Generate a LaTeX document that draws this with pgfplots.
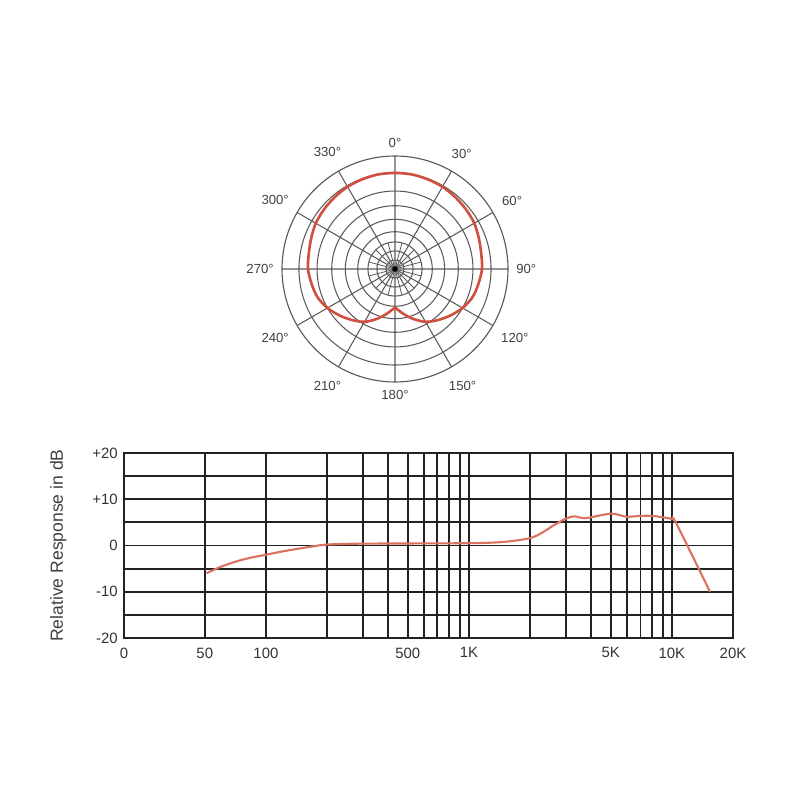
\documentclass[border=0pt]{standalone}
\usepackage{fontspec}
\setmainfont{Liberation Sans}
\usepackage{pgfplots}
\pgfplotsset{compat=1.18}
\usepgfplotslibrary{polar}
\definecolor{polred}{HTML}{D0503F}
\definecolor{resp}{HTML}{D9735F}
\definecolor{gridc}{HTML}{222222}
\definecolor{pgrid}{HTML}{5A5A5A}
\begin{document}
\begin{tikzpicture}[x=1cm,y=1cm]
\useasboundingbox (0,0) rectangle (16,16);
\begin{polaraxis}[
  at={(7.9cm,10.62cm)}, anchor=center,
  scale only axis, width=4.52cm, height=4.52cm,
  xmin=0, xmax=360, ymin=0, ymax=1,
  xtick={0,30,...,330},
  xticklabels={90°,60°,30°,0°,330°,300°,270°,240°,210°,180°,150°,120°},
  ytick={0.08,0.16,0.24,0.33,0.44,0.56,0.69,0.85},
  yticklabels={},
  grid=major,
  major grid style={pgrid, line width=0.6pt},
  x axis line style={pgrid, line width=0.65pt},
  y axis line style={draw=none},
  tick style={draw=none},
  major tick length=0pt,
  xticklabel style={font=\fontsize{7.5}{9}\selectfont, text=black!75, inner sep=4.5pt},
]
\pgfplotsinvokeforeach{15,45,75,105,135,165,195,225,255,285,315,345}{
  \addplot[pgrid, line width=0.45pt] coordinates {(#1,0) (#1,0.24)};
}
\addplot[only marks, mark=*, mark size=1.3pt, black] coordinates {(0,0)};
\addplot[polred, line width=1.5pt, smooth] coordinates {
(270,0.34) (260,0.40) (250,0.47) (240,0.54) (230,0.59) (220,0.64) (210,0.69)
(200,0.73) (190,0.75) (180,0.77) (170,0.775) (160,0.79) (150,0.81) (140,0.82)
(130,0.83) (120,0.84) (110,0.845) (100,0.85) (90,0.85) (80,0.85) (70,0.845)
(60,0.84) (50,0.83) (40,0.82) (30,0.81) (20,0.79) (10,0.775) (0,0.77)
(350,0.75) (340,0.73) (330,0.69) (320,0.64) (310,0.59) (300,0.54) (290,0.47)
(280,0.40) (270,0.34)
};
\end{polaraxis}
\begin{axis}[
  at={(2.48cm,3.24cm)}, anchor=south west,
  scale only axis, width=12.18cm, height=3.7cm,
  xmode=log, xmin=20, xmax=20000, ymin=-20, ymax=20,
  xtick={20,50,100,200,300,400,500,600,700,800,900,1000,2000,3000,4000,5000,6000,7000,8000,9000,10000,20000},
  xticklabels={0,50,100,,,,500,,,,,1K,,,,5K,,,,,10K,20K},
  ytick={-20,-15,...,20},
  yticklabels={-20,,-10,,0,,+10,,+20},
  grid=major,
  major grid style={gridc, line width=1.1pt},
  axis line style={gridc, line width=1.1pt},
  tick style={draw=none},
  major tick length=0pt,
  ticklabel style={font=\fontsize{8.5}{10}\selectfont, text=black!80},
  xticklabel style={yshift=-2pt},
  ylabel={Relative Response in dB},
  ylabel style={at={(axis description cs:-0.108,0.5)}, anchor=center, font=\fontsize{10}{12}\selectfont, text=black!75},
]
\addplot[resp, line width=1.2pt, smooth] table {
f db
51 -6.0
60 -4.6
72 -3.4
85 -2.6
100 -2.0
120 -1.3
144 -0.7
170 -0.2
200 0.2
300 0.4
1000 0.5
1500 0.8
2000 1.6
2300 2.8
2600 4.3
3000 5.8
3300 6.3
3700 5.9
4200 6.3
5000 6.9
5500 6.6
6000 6.2
7000 6.4
8000 6.4
9000 6.1
10000 5.7
10500 4.8
15400 -10
};
\end{axis}
\end{tikzpicture}
\end{document}
